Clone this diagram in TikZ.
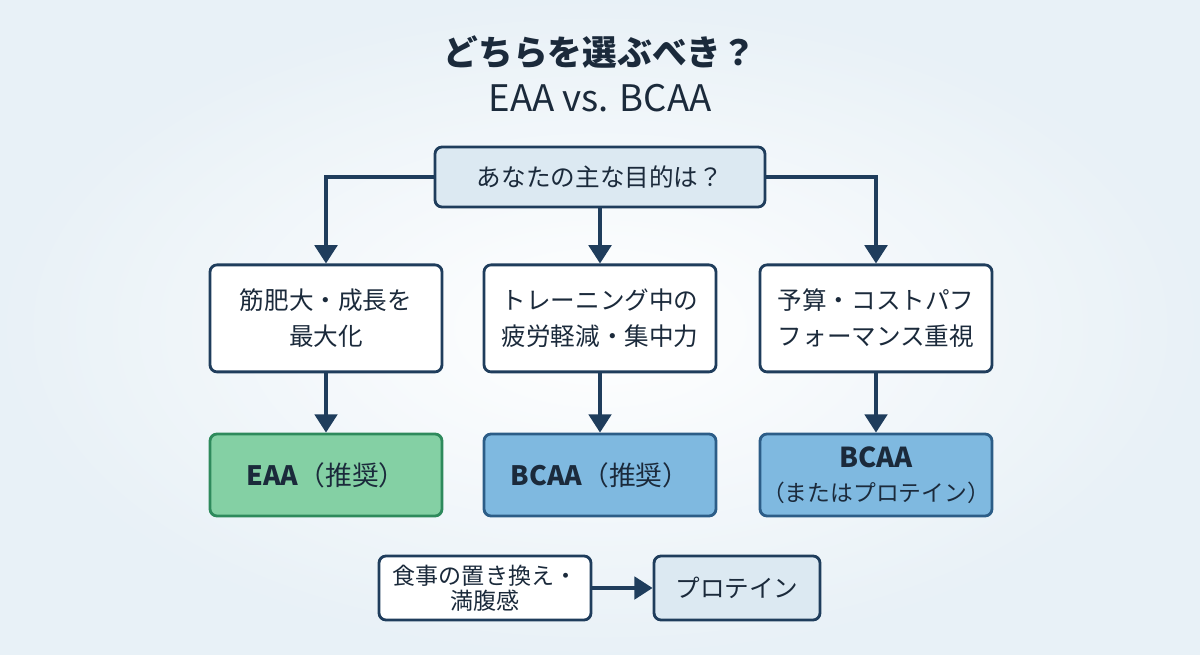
\documentclass[tikz,border=0pt]{standalone}
\usepackage{fontspec}
\setmainfont{Noto Sans CJK JP}
\usepackage{xcolor}
\usepackage{tikz}
\usetikzlibrary{arrows.meta,positioning,calc}
\definecolor{navy}{HTML}{1F3D5C}
\definecolor{ink}{HTML}{1B2A3B}
\definecolor{paleblue}{HTML}{DCE9F2}
\definecolor{eaafill}{HTML}{84D0A4}
\definecolor{eaaline}{HTML}{2E8A5C}
\definecolor{bcaafill}{HTML}{7FB9E0}
\definecolor{bcaaline}{HTML}{2C5D87}
\tikzstyle{base} = [rectangle, rounded corners=5pt, text centered, align=center, line width=2pt, text=ink]
\tikzstyle{question} = [base, minimum width=8.25cm, minimum height=1.5cm, draw=navy, fill=paleblue, font=\fontsize{17.5}{22}\selectfont]
\tikzstyle{goal} = [base, minimum width=5.8cm, minimum height=2.675cm, draw=navy, fill=white, font=\fontsize{17.5}{25.5}\selectfont]
\tikzstyle{pickeaa} = [base, minimum width=5.8cm, minimum height=2.05cm, draw=eaaline, fill=eaafill, font=\fontsize{19}{24}\selectfont]
\tikzstyle{pickbcaa} = [base, minimum width=5.8cm, minimum height=2.05cm, draw=bcaaline, fill=bcaafill, font=\fontsize{19}{24}\selectfont]
\tikzstyle{arrow} = [line width=2.6pt, draw=navy, -{Triangle[width=16pt,length=13pt]}]

\begin{document}
\begin{tikzpicture}

% Hintergrund
\shade[inner color=white, outer color=paleblue!65] (0,0) rectangle (30,-16.375);
\useasboundingbox (0,0) rectangle (30,-16.375);

% Titel
\node (title) at (15,-1.3) {\fontsize{24.7}{28}\selectfont\bfseries\color{ink} どちらを選ぶべき？};
\node (subtitle) at (15,-2.45) {\fontsize{26}{30}\selectfont\color{ink} EAA vs. BCAA};

% Frage
\node (ask) [question] at (15,-4.425) {あなたの主な目的は？};

% Ziele
\node (muscle) [goal] at (8.15,-7.96) {筋肥大・成長を\\最大化};
\node (focus) [goal] at (15,-7.96) {トレーニング中の\\疲労軽減・集中力};
\node (budget) [goal] at (21.9,-7.96) {予算・コストパフ\\フォーマンス重視};

% Empfehlungen
\node (eaa) [pickeaa] at (8.15,-11.875) {\textbf{EAA}（推奨）};
\node (bcaa) [pickbcaa] at (15,-11.875) {\textbf{BCAA}（推奨）};
\node (bcaaalt) [pickbcaa, inner xsep=1pt] at (21.9,-11.875) {{\fontsize{19.5}{24}\selectfont\textbf{BCAA}}\\{\fontsize{16.2}{24}\selectfont（またはプロテイン）}};

% Mahlzeit
\node (meal) [base, draw=navy, fill=white, minimum width=5.3cm, minimum height=1.6cm, font=\fontsize{16.4}{18}\selectfont] at (12.125,-14.7) {食事の置き換え・\\満腹感};
\node (protein) [base, draw=navy, fill=paleblue, minimum width=4.15cm, minimum height=1.6cm, font=\fontsize{17.5}{22}\selectfont] at (18.425,-14.7) {プロテイン};

% Pfeile
\draw [arrow] (ask.west) -| (muscle.north);
\draw [arrow] (ask.south) -- (focus.north);
\draw [arrow] (ask.east) -| (budget.north);
\draw [arrow] (muscle) -- (eaa);
\draw [arrow] (focus) -- (bcaa);
\draw [arrow] (budget) -- (bcaaalt);
\draw [arrow] (meal) -- (protein);

\end{tikzpicture}
\end{document}
